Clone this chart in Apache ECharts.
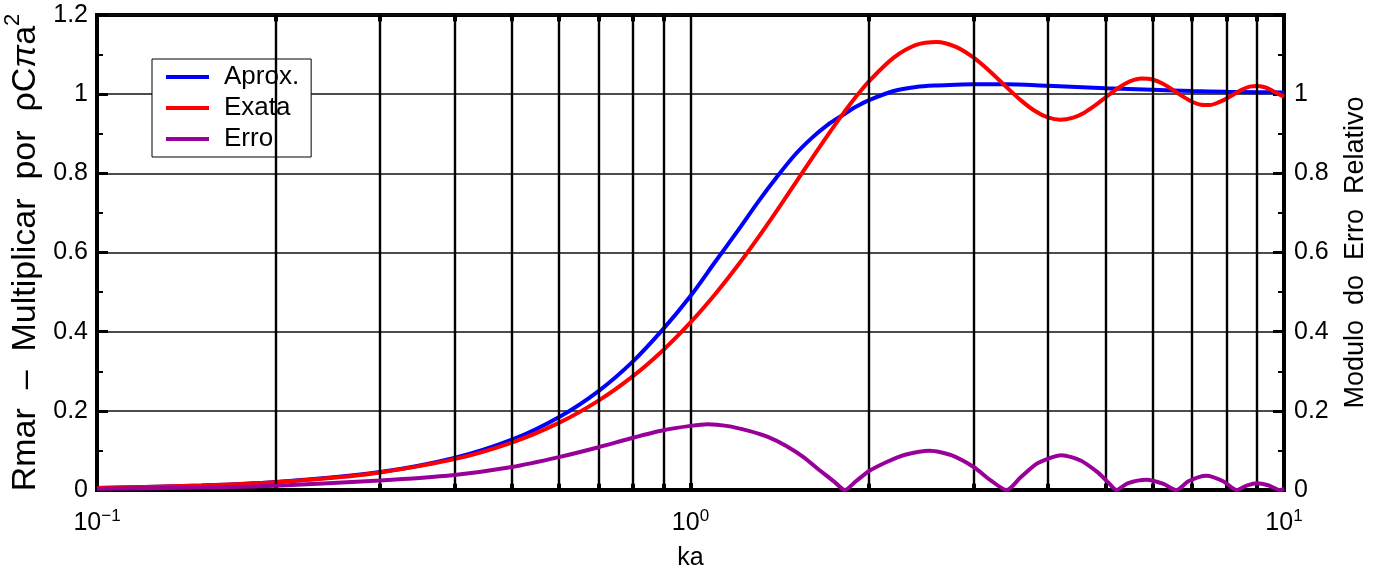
<!DOCTYPE html>
<html>
<head>
<meta charset="utf-8">
<script src="https://cdn.jsdelivr.net/npm/echarts@6/dist/echarts.min.js"></script>
<style>
html,body{margin:0;padding:0;background:#fff;}
#c{width:1385px;height:573px;}
</style>
</head>
<body>
<div id="c"></div>
<script>
// ---- data ----
const kaExact = [0.1,0.15,0.2,0.25,0.3,0.4,0.5,0.6,0.7,0.8,0.9,1.0,1.1,1.2,1.3,1.4,1.5,1.6,1.7,1.8,1.9,2.0,2.2,2.4,2.6,2.8,3.0,3.2,3.4,3.6,3.8,4.0,4.2,4.4,4.6,4.8,5.0,5.25,5.5,5.75,6.0,6.25,6.5,6.75,7.0,7.25,7.5,7.75,8.0,8.25,8.5,8.75,9.0,9.25,9.5,9.75,10];
const rExact  = [0.005,0.0112,0.0199,0.0309,0.0443,0.0779,0.1199,0.1695,0.2258,0.2876,0.3539,0.4233,0.4946,0.5665,0.6378,0.7073,0.774,0.8367,0.8946,0.947,0.9933,1.033,1.0922,1.1244,1.132,1.1195,1.0922,1.0568,1.0192,0.9849,0.9581,0.9413,0.9355,0.94,0.9527,0.9709,0.9913,1.015,1.0321,1.0395,1.0372,1.0265,1.0108,0.9944,0.9809,0.9734,0.9727,0.979,0.9887,1.0006,1.0115,1.0189,1.0209,1.018,1.0111,1.002,0.9933];

const kaApprox = [0.1,0.15,0.2,0.3,0.4,0.5,0.6,0.7,0.8,0.9,1.0,1.1,1.2,1.3,1.4,1.5,1.6,1.7,1.8,1.9,2.0,2.2,2.4,2.6,2.8,3.0,3.4,4.0,5.0,6.0,7.0,8.0,9.0,10];
const rApprox  = [0.005,0.0112,0.0201,0.0454,0.0809,0.127,0.184,0.250,0.325,0.407,0.490,0.576,0.654,0.728,0.792,0.847,0.889,0.922,0.946,0.968,0.985,1.008,1.018,1.022,1.024,1.025,1.025,1.021,1.015,1.011,1.008,1.006,1.005,1.004];

const kaErr = [0.1,0.15,0.2,0.3,0.4,0.5,0.6,0.7,0.8,0.9,1.0,1.07,1.15,1.25,1.35,1.45,1.55,1.65,1.75,1.82,1.9,2.0,2.15,2.3,2.53,2.75,3.0,3.2,3.41,3.6,3.85,4.22,4.55,4.85,5.05,5.22,5.45,5.87,6.25,6.59,6.9,7.4,7.9,8.32,8.65,9.0,9.4,9.85,10];
const errVals = [0.003,0.006,0.011,0.024,0.038,0.058,0.083,0.108,0.132,0.151,0.162,0.166,0.162,0.150,0.134,0.111,0.083,0.050,0.020,0,0.022,0.048,0.072,0.089,0.099,0.088,0.058,0.025,0,0.032,0.068,0.088,0.074,0.045,0.020,0,0.017,0.026,0.016,0,0.022,0.036,0.022,0,0.011,0.017,0.012,0,0.003];

const gridTicks = [0.2,0.3,0.4,0.5,0.6,0.7,0.8,0.9,2,3,4,5,6,7,8,9];
const xMajor = {0.1:'−1', 1:'0', 10:'1'};
const seriesNames = ['Aprox.','Exata','Erro'];

// ---- chart ----
const zip = (a,b) => a.map((v,i)=>[v,b[i]]);
const font = 'Liberation Sans, Arial, Helvetica, sans-serif';
const chart = echarts.init(document.getElementById('c'), null, {renderer:'canvas'});

const vLines = gridTicks.map(v => ({xAxis: v}));
const stubs = [];
gridTicks.forEach(v => {
  stubs.push([{coord:[v,0]},{coord:[v,0.016]}]);
  stubs.push([{coord:[v,1.2]},{coord:[v,1.184]}]);
});

const yCommon = {
  type:'value', min:0, max:1.2, interval:0.2,
  axisLine:{show:true, onZero:false, lineStyle:{color:'#000', width:4}},
  axisTick:{show:true, inside:true, length:11, lineStyle:{color:'#000', width:3}},
  minorTick:{show:true, splitNumber:2, length:6, lineStyle:{color:'#000', width:2}},
  axisLabel:{color:'#000', fontFamily:font, fontSize:25, margin:9},
};

chart.setOption({
  animation:false,
  backgroundColor:'#fff',
  grid:{left:97, right:101, top:15, bottom:83, containLabel:false, outerBoundsMode:'none',
        show:true, borderColor:'#000', borderWidth:4, backgroundColor:'transparent'},
  legend:{
    data:seriesNames, orient:'vertical', left:152, top:59,
    backgroundColor:'#fff', borderColor:'#000', borderWidth:1,
    icon:'rect', padding:[5,12,5,14], itemWidth:43, itemHeight:4, itemGap:5,
    textStyle:{color:'#000', fontFamily:font, fontSize:26, lineHeight:22, padding:[0,0,0,10]}
  },
  xAxis:{
    type:'log', logBase:10, min:0.1, max:10,
    name:'ka', nameLocation:'middle', nameGap:56,
    nameTextStyle:{color:'#000', fontFamily:font, fontSize:25},
    axisLine:{show:true, onZero:false, lineStyle:{color:'#000', width:4}},
    axisTick:{show:true, inside:true, length:7, lineStyle:{color:'#000', width:4}},
    splitLine:{show:true, lineStyle:{color:'#000', width:2.4}},
    axisLabel:{
      margin:18, color:'#000', fontFamily:font,
      formatter: v => {
        const k = Object.keys(xMajor).find(t => Math.abs(parseFloat(t)-v) < 1e-9);
        return k ? '{b|10}{s|' + xMajor[k] + '}' : '';
      },
      rich:{ b:{fontSize:25, fontFamily:font, color:'#000', lineHeight:28, verticalAlign:'bottom'},
             s:{fontSize:17, fontFamily:font, color:'#000', lineHeight:16, verticalAlign:'top'} }
    }
  },
  yAxis:[
    Object.assign({}, yCommon, {
      position:'left',
      name:'{a|Rmar  –  Multiplicar  por  ρC}{p|π}{a|a}{s|2}',
      nameLocation:'middle', nameGap:46,
      nameTextStyle:{color:'#000', rich:{
        a:{fontSize:34, fontFamily:font, color:'#000', lineHeight:40, verticalAlign:'bottom'},
        p:{fontSize:34, fontFamily:font, fontStyle:'italic', color:'#000', lineHeight:40, verticalAlign:'bottom'},
        s:{fontSize:22, fontFamily:font, color:'#000', lineHeight:20, verticalAlign:'top'}
      }},
      splitLine:{show:true, lineStyle:{color:'#111', width:1.6}},
      axisLabel:Object.assign({}, yCommon.axisLabel, {formatter: v => String(+v.toFixed(1))})
    }),
    Object.assign({}, yCommon, {
      position:'right',
      name:'Modulo  do  Erro  Relativo', nameLocation:'middle', nameGap:58,
      nameTextStyle:{color:'#000', fontFamily:font, fontSize:27},
      splitLine:{show:false},
      axisLabel:Object.assign({}, yCommon.axisLabel, {margin:10, formatter: v => v > 1.05 ? '' : String(+v.toFixed(1))})
    })
  ],
  series:[
    {
      name:'grid', type:'line', data:[], silent:true, z:1,
      markLine:{silent:true, symbol:['none','none'], label:{show:false},
        lineStyle:{color:'#000', width:2.4, type:'solid'}, data: vLines}
    },
    {
      name:'grid2', type:'line', data:[], silent:true, z:1,
      markLine:{silent:true, symbol:['none','none'], label:{show:false},
        lineStyle:{color:'#000', width:4, type:'solid'}, data: stubs}
    },
    {name:'Aprox.', type:'line', data:zip(kaApprox, rApprox), smooth:0.3, showSymbol:false, symbol:'none',
     lineStyle:{color:'#0000ff', width:4}, itemStyle:{color:'#0000ff'}, z:3},
    {name:'Exata', type:'line', data:zip(kaExact, rExact), smooth:0.3, showSymbol:false, symbol:'none',
     lineStyle:{color:'#ff0000', width:4}, itemStyle:{color:'#ff0000'}, z:4},
    {name:'Erro', type:'line', yAxisIndex:1, data:zip(kaErr, errVals), smooth:0.25, showSymbol:false, symbol:'none',
     lineStyle:{color:'#990099', width:4}, itemStyle:{color:'#990099'}, z:5}
  ]
});
</script>
</body>
</html>
